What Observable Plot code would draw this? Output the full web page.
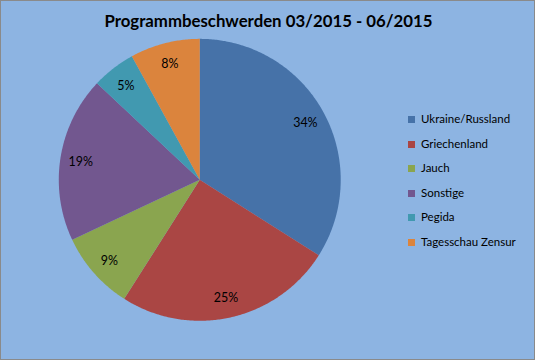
<!DOCTYPE html>
<html>
<head>
<meta charset="utf-8">
<script src="https://cdn.jsdelivr.net/npm/d3@7"></script>
<script src="https://cdn.jsdelivr.net/npm/@observablehq/plot@0.6"></script>
<style>
  html, body { margin: 0; padding: 0; background: #fff; }
  #chart {
    position: relative; width: 533px; height: 358px;
    background: #8DB4E2; border: 1px solid #8a8a8a;
    font-family: Lato, "Open Sans", sans-serif; overflow: hidden;
  }
  #chart svg.pie { position: absolute; left: -1px; top: -1px; }
  #title {
    position: absolute; left: 0; width: 535px; top: 9px; text-align: center;
    font-weight: bold; font-size: 16.8px; color: #000; line-height: 22px;
  }
  #legend { position: absolute; left: 407px; top: 111px; font-size: 11.5px; color: #000; }
  #legend .row { height: 24.6px; display: flex; align-items: flex-start; white-space: nowrap; }
  #legend .sw { width: 7px; height: 7px; margin-top: 4px; margin-right: 6px; }
</style>
</head>
<body>
<div id="chart">
  <div id="title"></div>
  <div id="legend"></div>
</div>
<script>
const title = "Programmbeschwerden 03/2015 - 06/2015";
const categories = ["Ukraine/Russland", "Griechenland", "Jauch", "Sonstige", "Pegida", "Tagesschau Zensur"];
const values = [34, 25, 9, 19, 5, 8];
const labels = ["34%", "25%", "9%", "19%", "5%", "8%"];
const colors = ["#4672A8", "#AA4644", "#8AA54F", "#72578F", "#4199B0", "#DB843D"];

const arcs = d3.pie().sort(null).value((d, i) => values[i])(categories);

// slice polygons in unit-circle data space (angle 0 at 12 o'clock, clockwise)
const slicePts = [];
arcs.forEach((a, i) => {
  const name = categories[i];
  slicePts.push({name, x: 0, y: 0});
  const n = Math.max(2, Math.ceil((a.endAngle - a.startAngle) / 0.01));
  for (let k = 0; k <= n; k++) {
    const t = a.startAngle + (a.endAngle - a.startAngle) * k / n;
    slicePts.push({name, x: Math.sin(t), y: Math.cos(t)});
  }
});
const labelPts = arcs.map((a, i) => {
  const m = (a.startAngle + a.endAngle) / 2;
  return {label: labels[i], x: 0.855 * Math.sin(m), y: 0.855 * Math.cos(m)};
});

const cx = 200, cy = 180, r = 141.5;
const plot = Plot.plot({
  width: 535, height: 360,
  margin: 0,
  x: {domain: [-1, 1], range: [cx - r, cx + r], axis: null},
  y: {domain: [-1, 1], range: [cy + r, cy - r], axis: null},
  color: {domain: categories, range: colors},
  style: {background: "transparent", overflow: "visible"},
  marks: [
    Plot.line(slicePts, {x: "x", y: "y", z: "name", fill: "name", stroke: "none", curve: "linear-closed"}),
    Plot.text(labelPts, {x: "x", y: "y", text: "label", fill: "#000", fontSize: 12.5, fontFamily: "Lato, sans-serif", dy: 1})
  ]
});
plot.classList.add("pie");
document.getElementById("chart").appendChild(plot);

document.getElementById("title").textContent = title;
const legend = document.getElementById("legend");
categories.forEach((c, i) => {
  const row = document.createElement("div");
  row.className = "row";
  const sw = document.createElement("div");
  sw.className = "sw";
  sw.style.background = colors[i];
  const t = document.createElement("span");
  t.textContent = c;
  row.appendChild(sw); row.appendChild(t);
  legend.appendChild(row);
});
</script>
</body>
</html>
